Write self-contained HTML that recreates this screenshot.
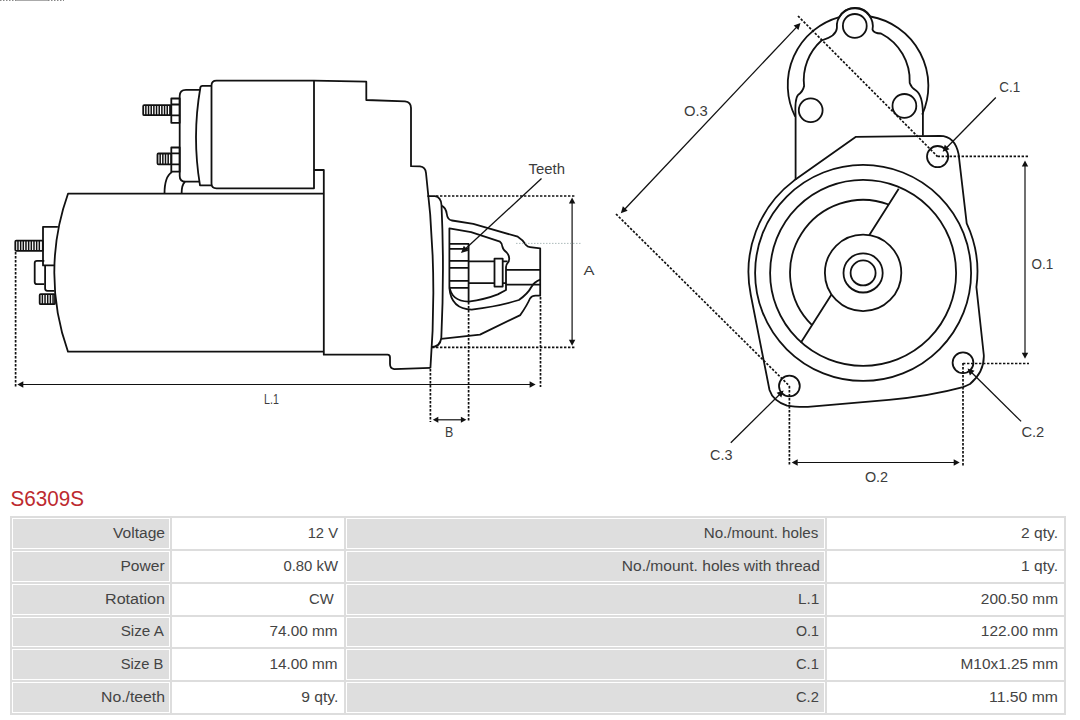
<!DOCTYPE html>
<html><head><meta charset="utf-8"><style>
*{margin:0;padding:0;box-sizing:border-box}
html,body{width:1080px;height:720px;background:#fff;overflow:hidden}
body{position:relative;font-family:"Liberation Sans",sans-serif}
svg{position:absolute;left:0;top:0}
.g{position:absolute;background:#dcdcdc}
.lc{position:absolute;background:#dedede}
.t{position:absolute;color:#444;font-size:14px;line-height:16px;white-space:nowrap;text-align:right}
</style></head>
<body>
<svg width="1080" height="720" viewBox="0 0 1080 720">
<rect x="10" y="516" width="1056" height="2" fill="#dddddd"/><rect x="10" y="549" width="1056" height="2" fill="#dddddd"/><rect x="10" y="582" width="1056" height="2" fill="#dddddd"/><rect x="10" y="615" width="1056" height="2" fill="#dddddd"/><rect x="10" y="647" width="1056" height="2" fill="#dddddd"/><rect x="10" y="680" width="1056" height="2" fill="#dddddd"/><rect x="10" y="713" width="1056" height="2" fill="#dddddd"/><rect x="10" y="516" width="2" height="199" fill="#dddddd"/><rect x="170" y="516" width="2" height="199" fill="#dddddd"/><rect x="344" y="516" width="2" height="199" fill="#dddddd"/><rect x="825" y="516" width="2" height="199" fill="#dddddd"/><rect x="1064" y="516" width="2" height="199" fill="#dddddd"/><rect x="13" y="519" width="156" height="29" fill="#dedede"/><rect x="347" y="519" width="477" height="29" fill="#dedede"/><rect x="13" y="552" width="156" height="29" fill="#dedede"/><rect x="347" y="552" width="477" height="29" fill="#dedede"/><rect x="13" y="585" width="156" height="29" fill="#dedede"/><rect x="347" y="585" width="477" height="29" fill="#dedede"/><rect x="13" y="618" width="156" height="28" fill="#dedede"/><rect x="347" y="618" width="477" height="28" fill="#dedede"/><rect x="13" y="650" width="156" height="29" fill="#dedede"/><rect x="347" y="650" width="477" height="29" fill="#dedede"/><rect x="13" y="683" width="156" height="29" fill="#dedede"/><rect x="347" y="683" width="477" height="29" fill="#dedede"/>
<path d="M0,0.5H16M48,0.5H64" stroke="#888" stroke-width="1" stroke-dasharray="1.5 1.5"/><path d="M16,0.5H48" stroke="#aaa" stroke-width="1"/>
<text x="10.6" y="505.5" textLength="73.5" lengthAdjust="spacingAndGlyphs" font-size="21.5" fill="#bd2a2f" font-family="Liberation Sans, sans-serif">S6309S</text>
<g font-family="Liberation Sans, sans-serif" font-size="14" fill="#444"><text x="113.0" y="538.1" textLength="52.0" lengthAdjust="spacingAndGlyphs">Voltage</text><text x="307.7" y="538.1" textLength="30.3" lengthAdjust="spacingAndGlyphs">12 V</text><text x="703.7" y="538.1" textLength="114.7" lengthAdjust="spacingAndGlyphs">No./mount. holes</text><text x="1021.1" y="538.1" textLength="36.9" lengthAdjust="spacingAndGlyphs">2 qty.</text><text x="120.4" y="570.7" textLength="44.2" lengthAdjust="spacingAndGlyphs">Power</text><text x="283.4" y="570.7" textLength="54.6" lengthAdjust="spacingAndGlyphs">0.80 kW</text><text x="621.8" y="570.7" textLength="198.1" lengthAdjust="spacingAndGlyphs">No./mount. holes with thread</text><text x="1021.1" y="570.7" textLength="36.9" lengthAdjust="spacingAndGlyphs">1 qty.</text><text x="105.0" y="603.5" textLength="60.0" lengthAdjust="spacingAndGlyphs">Rotation</text><text x="309.1" y="603.5" textLength="24.7" lengthAdjust="spacingAndGlyphs">CW</text><text x="797.9" y="603.5" textLength="21.3" lengthAdjust="spacingAndGlyphs">L.1</text><text x="980.8" y="603.5" textLength="77.2" lengthAdjust="spacingAndGlyphs">200.50 mm</text><text x="120.7" y="636.1" textLength="43.1" lengthAdjust="spacingAndGlyphs">Size A</text><text x="269.4" y="636.1" textLength="68.2" lengthAdjust="spacingAndGlyphs">74.00 mm</text><text x="796.0" y="636.1" textLength="22.9" lengthAdjust="spacingAndGlyphs">O.1</text><text x="980.8" y="636.1" textLength="77.2" lengthAdjust="spacingAndGlyphs">122.00 mm</text><text x="120.7" y="669.1" textLength="42.6" lengthAdjust="spacingAndGlyphs">Size B</text><text x="269.4" y="669.1" textLength="68.2" lengthAdjust="spacingAndGlyphs">14.00 mm</text><text x="796.0" y="669.1" textLength="22.9" lengthAdjust="spacingAndGlyphs">C.1</text><text x="960.5" y="669.1" textLength="97.5" lengthAdjust="spacingAndGlyphs">M10x1.25 mm</text><text x="101.0" y="701.6" textLength="64.0" lengthAdjust="spacingAndGlyphs">No./teeth</text><text x="301.2" y="701.6" textLength="37.2" lengthAdjust="spacingAndGlyphs">9 qty.</text><text x="796.0" y="701.6" textLength="22.9" lengthAdjust="spacingAndGlyphs">C.2</text><text x="989.1" y="701.6" textLength="68.9" lengthAdjust="spacingAndGlyphs">11.50 mm</text></g>
<g fill="none" stroke="#111" stroke-width="1.8" stroke-linejoin="round" stroke-linecap="butt">
<rect x="143.2" y="105.2" width="27.9" height="10.0" rx="1"/><path d="M145.87,105.2V115.2M148.54,105.2V115.2M151.21,105.2V115.2M153.88,105.2V115.2M156.55,105.2V115.2M159.22,105.2V115.2M161.89,105.2V115.2M164.56,105.2V115.2M167.23,105.2V115.2M169.90,105.2V115.2" stroke-width="1.5"/><path d="M171.3,98.5H179.7V122.8H171.3Z M171.3,104.5H179.7 M171.3,115.3H179.7"/><rect x="157.5" y="153.5" width="13.8" height="10.8" rx="1"/><path d="M160.17,153.5V164.3M162.84,153.5V164.3M165.51,153.5V164.3M168.18,153.5V164.3" stroke-width="1.5"/><path d="M171.3,147.5H179.7V171.7H171.3Z M171.3,153.3H179.7 M171.3,164.3H179.7"/><path d="M172,172C167,175 164.5,183 164.5,193.7 M185,181.8C182.5,184 181.6,188 181.6,193.7"/><path d="M200.2,89.8H186Q179.7,89.8 179.7,96V176Q179.7,181.7 185.5,181.7H200"/><path d="M211.5,85.8H202.6Q200.4,85.8 200.3,88A291,291 0 0 0 200,185.4H211.5"/><path d="M314,80.6H216.5Q211.5,80.6 211.5,85.6V183.5Q211.5,188.3 216.5,188.3H314V80.6"/><path d="M314,80.6L366.3,81.7V100L405,101.3Q411,102 411,108V166.2L420,166.4Q425.5,167 426,173Q438,271 430.4,368.3"/><path d="M430.4,367.9L394.2,369.1Q390,368.5 390,364V357.5Q390,354.7 387.5,354.7H323.8V170H314"/><path d="M323.8,193.7H68A234.6,234.6 0 0 0 68,351.7H323.8"/><path d="M57.9,226.8H43V265.4H54.7"/><rect x="15.3" y="240.7" width="27.5" height="10.1" rx="1"/><path d="M17.97,240.7V250.79999999999998M20.64,240.7V250.79999999999998M23.31,240.7V250.79999999999998M25.98,240.7V250.79999999999998M28.65,240.7V250.79999999999998M31.32,240.7V250.79999999999998M33.99,240.7V250.79999999999998M36.66,240.7V250.79999999999998M39.33,240.7V250.79999999999998" stroke-width="1.5"/><path d="M44.3,260.8H37Q34.7,260.8 34.7,263V282Q34.7,284.2 37,284.2H44.3"/><path d="M45.1,265.4V288.6Q45.1,290.8 47.3,290.8H54.5"/><rect x="39.7" y="294.2" width="15.3" height="10.0" rx="1"/><path d="M42.37,294.2V304.2M45.04,294.2V304.2M47.71,294.2V304.2M50.38,294.2V304.2M53.05,294.2V304.2" stroke-width="1.5"/><path d="M427.4,196.1H435Q441,197 441.5,205Q444.5,270 441.3,338Q440,347 431.4,347.2"/><path d="M441.2,205.6Q446,207.5 446.8,214Q447.5,220 452,220.5L473.3,223.9L517.8,236.7Q522.5,239.5 526,245Q527.5,247 530,247.2L540.2,248.3V295.7H535.6Q532,295.7 530,298.5Q527.2,305 520.3,315.1L480,334.6L441.1,338.8"/><path d="M449.4,288V228.3L471.1,232.2L500,241.7Q502.3,243.3 502.4,246.7Q503,250 506.7,252.5Q509.4,255.5 509.2,259Q509,262 507.9,262.6Q506,264.5 506,267V290L497.8,294.4Q485,299.5 468.6,301.7Q451,301 449.4,286"/><path d="M449.4,288Q451,309 471.7,309.6Q500,306 518.9,300Q528,293.5 531,287.5Q534,282 540.2,279.7"/><path d="M449.4,243.9H468.6V301.7 M449.4,248.9H468.6 M449.4,260.9H468.6 M449.4,267.8H468.6 M449.4,280.8H468.6 M449.4,287.8H468.6"/><path d="M468.6,261.4H494.5 M468.6,283.2H494.5 M494.5,258.7H502.7V286.6H494.5Z M502.7,261.4H507.6 M502.7,283.2H506 M506,269.8H540.2 M506,284.7H540.2"/>
<path d="M795.2,116.6A70.5,70.5 0 0 1 839.3,17.1A18,18 0 0 1 870.4,16.5A70.5,70.5 0 0 1 922.2,114.7"/><path d="M795.6,180V116.6Q794.6,99 798,95Q803,91.5 804.1,86A53,53 0 0 1 821.5,40.5Q836.5,36 836.9,28A18,18 0 1 1 872.5,29.6Q874,33.5 881,33.5A53,53 0 0 1 909.7,83Q911.5,88 916,90.5Q922.5,95 922.9,112.8V135.8"/><circle cx="854.8" cy="25.9" r="11.9"/><circle cx="810.7" cy="110.2" r="11.9"/><circle cx="904.4" cy="105.9" r="11.9"/><path d="M855.6,136.9L939.9,135.8Q955,136 958.6,154.2L966.7,223.3A114.5,114.5 0 0 1 976.4,287.2L983.8,355Q984.5,372 970,384Q966,386 963,387.1Q930,396 888.9,399.9L807.9,406.8Q795,407 787,405.6Q773,401 769.5,390L750.8,295A114.5,114.5 0 0 1 794,180.6Z"/><circle cx="863.1" cy="272.9" r="108"/><circle cx="863.1" cy="272.9" r="93"/><circle cx="863.1" cy="272.9" r="38.2"/><circle cx="863.1" cy="272.9" r="19.6"/><circle cx="863.1" cy="272.9" r="12.5"/><path d="M888.66,204.5A73,73 0 0 0 812.06,325.1"/><path d="M898.7,188.7L869.2,235.2M831.5,294.4L800.8,342.8"/><circle cx="937.6" cy="156.6" r="10.6"/><circle cx="963" cy="362.8" r="10.4"/><circle cx="789.4" cy="386" r="10.4"/>
</g>
<g font-family="Liberation Sans, sans-serif"><text x="528.6" y="173.9" textLength="36.4" lengthAdjust="spacingAndGlyphs" font-size="14" fill="#3c3c3c">Teeth</text><text x="583.5" y="274.6" textLength="11" lengthAdjust="spacingAndGlyphs" font-size="13" fill="#3c3c3c">A</text><text x="264.0" y="404.1" textLength="14.8" lengthAdjust="spacingAndGlyphs" font-size="14" fill="#3c3c3c">L.1</text><text x="444.9" y="437" textLength="8.3" lengthAdjust="spacingAndGlyphs" font-size="14" fill="#3c3c3c">B</text><text x="683.9" y="115.6" textLength="23.9" lengthAdjust="spacingAndGlyphs" font-size="14" fill="#3c3c3c">O.3</text><text x="999.3" y="91.5" textLength="20.9" lengthAdjust="spacingAndGlyphs" font-size="14" fill="#3c3c3c">C.1</text><text x="1031.5" y="269.2" textLength="21.7" lengthAdjust="spacingAndGlyphs" font-size="14" fill="#3c3c3c">O.1</text><text x="1021.4" y="436.9" textLength="22.9" lengthAdjust="spacingAndGlyphs" font-size="14" fill="#3c3c3c">C.2</text><text x="710.0" y="459.6" textLength="22.4" lengthAdjust="spacingAndGlyphs" font-size="14" fill="#3c3c3c">C.3</text><text x="864.9" y="481.7" textLength="23.2" lengthAdjust="spacingAndGlyphs" font-size="14" fill="#3c3c3c">O.2</text></g>
<path d="M436,196H575" stroke="#111" stroke-width="1.7" stroke-dasharray="2.4 1.6" fill="none"/><path d="M432,347.3H575" stroke="#111" stroke-width="1.7" stroke-dasharray="2.4 1.6" fill="none"/><path d="M572.10,203.00L572.10,340.30" stroke="#111" stroke-width="1.2" fill="none"/><path d="M572.10,197.50L568.90,203.50L575.30,203.50Z" fill="#111" stroke="none"/><path d="M572.10,345.80L568.90,339.80L575.30,339.80Z" fill="#111" stroke="none"/><path d="M516,243.4H581" stroke="#9aa" stroke-width="1" stroke-dasharray="1.5 1.5" fill="none" opacity="0.8"/><path d="M15.6,252V388" stroke="#111" stroke-width="1.7" stroke-dasharray="2.4 1.6" fill="none"/><path d="M22.80,384.50L530.10,384.50" stroke="#111" stroke-width="1.2" fill="none"/><path d="M17.30,384.50L23.30,387.70L23.30,381.30Z" fill="#111" stroke="none"/><path d="M535.60,384.50L529.60,387.70L529.60,381.30Z" fill="#111" stroke="none"/><path d="M430.4,369V422" stroke="#111" stroke-width="1.7" stroke-dasharray="2.4 1.6" fill="none"/><path d="M468.6,302V422" stroke="#111" stroke-width="1.7" stroke-dasharray="2.4 1.6" fill="none"/><path d="M540.5,297V387" stroke="#111" stroke-width="1.7" stroke-dasharray="2.4 1.6" fill="none"/><path d="M437.80,419.80L461.40,419.80" stroke="#111" stroke-width="1.2" fill="none"/><path d="M432.80,419.80L438.30,422.80L438.30,416.80Z" fill="#111" stroke="none"/><path d="M466.40,419.80L460.90,422.80L460.90,416.80Z" fill="#111" stroke="none"/><path d="M541.50,178.60L465.77,248.59" stroke="#111" stroke-width="1.3" fill="none"/><path d="M461.00,253.00L463.83,245.75L468.45,250.75Z" fill="#111" stroke="none"/><path d="M798,16L937.6,156.6" stroke="#111" stroke-width="1.7" stroke-dasharray="2.4 1.6" fill="none"/><path d="M616,214L789.4,386" stroke="#111" stroke-width="1.7" stroke-dasharray="2.4 1.6" fill="none"/><path d="M796.38,27.36L624.92,208.94" stroke="#111" stroke-width="1.3" fill="none"/><path d="M800.50,23.00L793.64,25.46L798.44,29.99Z" fill="#111" stroke="none"/><path d="M620.80,213.30L622.86,206.31L627.66,210.84Z" fill="#111" stroke="none"/><path d="M995.80,97.50L946.80,147.42" stroke="#111" stroke-width="1.3" fill="none"/><path d="M942.60,151.70L944.80,144.75L949.51,149.37Z" fill="#111" stroke="none"/><path d="M937.6,156.4H1029" stroke="#111" stroke-width="1.7" stroke-dasharray="2.4 1.6" fill="none"/><path d="M963,363.5H1029" stroke="#111" stroke-width="1.7" stroke-dasharray="2.4 1.6" fill="none"/><path d="M1025.00,165.90L1025.00,353.20" stroke="#111" stroke-width="1.2" fill="none"/><path d="M1025.00,160.40L1021.80,166.40L1028.20,166.40Z" fill="#111" stroke="none"/><path d="M1025.00,358.70L1021.80,352.70L1028.20,352.70Z" fill="#111" stroke="none"/><path d="M1021.10,421.40L971.87,372.81" stroke="#111" stroke-width="1.3" fill="none"/><path d="M967.60,368.60L974.54,370.82L969.91,375.51Z" fill="#111" stroke="none"/><path d="M730.80,442.70L779.33,394.81" stroke="#111" stroke-width="1.3" fill="none"/><path d="M783.60,390.60L781.29,397.51L776.66,392.82Z" fill="#111" stroke="none"/><path d="M789.4,386V466" stroke="#111" stroke-width="1.7" stroke-dasharray="2.4 1.6" fill="none"/><path d="M963,363V466" stroke="#111" stroke-width="1.7" stroke-dasharray="2.4 1.6" fill="none"/><path d="M797.20,462.50L954.20,462.50" stroke="#111" stroke-width="1.2" fill="none"/><path d="M791.70,462.50L797.70,465.70L797.70,459.30Z" fill="#111" stroke="none"/><path d="M959.70,462.50L953.70,465.70L953.70,459.30Z" fill="#111" stroke="none"/>
</svg>
</body></html>
